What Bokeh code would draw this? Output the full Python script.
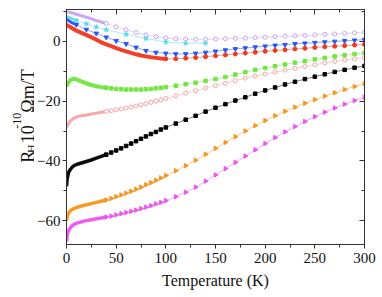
import math
from bokeh.plotting import figure
from bokeh.layouts import row
from bokeh.models import LinearAxis, Range1d, SingleIntervalTicker, CustomJSTickFormatter
from bokeh.core.properties import value
from bokeh.embed import file_html
from bokeh.resources import INLINE

# ---------------- data (temperature in K, R_H in 1e-10 Ohm m / T) ----------------
T_DENSE = [0, 0.5, 1, 2, 3, 4, 6, 8, 10, 15, 20, 25, 30, 35, 40]
T_SPARSE5 = [45, 50, 55, 60, 65, 70, 75, 80, 85, 90, 95, 100,
             110, 120, 130, 140, 150, 160, 170, 180, 190, 200,
             210, 220, 230, 240, 250, 260, 270, 280, 290, 300]

lav_T = [1, 5, 10, 15, 20, 25, 30, 35, 40,
         50, 60, 70, 80, 90, 100, 110, 120, 130, 140, 150, 160, 170, 180, 190, 200,
         210, 220, 230, 240, 250, 260, 270, 280, 290, 300]
lav_V = [10.0, 9.6, 9.1, 8.6, 8.1, 7.6, 7.0, 6.5, 6.0,
         4.9, 3.9, 3.0, 2.2, 1.6, 1.2, 0.9, 0.8, 0.7, 0.7, 0.8, 0.9, 1.0, 1.1, 1.3, 1.4,
         1.6, 1.7, 1.9, 2.0, 2.2, 2.4, 2.5, 2.7, 2.9, 3.1]

cyan_T = [0, 1, 2, 3, 4, 5, 6, 8, 10, 20, 30, 40, 60, 80, 100, 120, 140]
cyan_V = [8.3, 8.2, 8.1, 8.0, 7.9, 7.7, 7.6, 7.3, 7.0, 5.9, 4.8, 3.9, 2.4, 1.0, -0.2, -0.6, -0.6]

blue_T = [0, 1, 2, 3, 4, 5, 6, 8, 10,
          20, 30, 40, 50, 60, 70, 80, 90, 100, 110, 120, 130, 140, 150, 160, 170, 180, 190, 200,
          210, 220, 230, 240, 250, 260, 270, 280, 290, 300]
blue_V = [7.4, 7.2, 7.0, 6.8, 6.6, 6.4, 6.2, 5.9, 5.6,
          4.0, 2.7, 1.4, 0.2, -0.8, -2.0, -3.1, -3.7, -4.0, -4.2, -4.2, -4.0, -3.7, -3.3, -2.9, -2.5, -2.2, -1.9, -1.6,
          -1.3, -1.1, -0.8, -0.6, -0.4, -0.2, 0.0, 0.2, 0.4, 0.6]

red_T = [0, 2, 5, 10, 15, 20, 25, 30, 35, 40, 45, 50, 55, 60, 65, 70, 75, 80, 85, 90, 95, 100,
         110, 120, 130, 140, 150, 160, 170, 180, 190, 200,
         210, 220, 230, 240, 250, 260, 270, 280, 290, 300]
red_V = [5.6, 5.2, 4.6, 3.6, 2.9, 2.2, 1.4, 0.6, -0.3, -1.0, -1.6, -2.2, -2.8, -3.3, -3.8, -4.3, -4.7, -5.0, -5.3, -5.5, -5.7, -5.8,
         -5.8, -5.6, -5.4, -5.1, -4.8, -4.5, -4.2, -3.9, -3.6, -3.3,
         -3.0, -2.8, -2.5, -2.3, -2.0, -1.8, -1.6, -1.4, -1.2, -1.0]

green_Td = [0, 1, 2, 3, 4, 5, 6, 7, 8, 10, 12, 15, 20, 25, 30, 35, 40]
green_Vd = [-15.0, -14.4, -13.8, -13.3, -12.9, -12.7, -12.6, -12.5, -12.5, -12.7, -13.0, -13.4, -14.0, -14.6, -15.0, -15.3, -15.5]
green_Vs = [-15.7, -15.9, -16.0, -16.1, -16.1, -16.1, -16.1, -16.0, -15.9, -15.7, -15.5, -15.3,
            -14.8, -14.3, -13.8, -13.2, -12.6, -11.9, -11.1, -10.3, -9.5, -8.9,
            -8.3, -7.7, -7.1, -6.6, -6.0, -5.5, -5.0, -4.6, -4.2, -3.9]

pink_Td = [0, 1, 2, 3, 4, 6, 8, 10, 15, 20, 25, 30, 35, 40]
pink_Vd = [-28.8, -28.0, -27.5, -27.0, -26.6, -26.0, -25.6, -25.3, -24.9, -24.6, -24.3, -24.0, -23.7, -23.4]
pink_Vs = [-23.2, -22.9, -22.6, -22.3, -22.0, -21.6, -21.2, -20.8, -20.4, -20.0, -19.6, -19.1,
           -18.2, -17.3, -16.5, -15.6, -14.8, -14.0, -13.1, -12.3, -11.6, -10.9,
           -10.2, -9.6, -9.0, -8.4, -7.8, -7.2, -6.7, -6.2, -5.8, -5.4]

black_Vd = [-48.5, -46.5, -45.5, -44.0, -43.3, -42.8, -42.0, -41.5, -41.2, -40.7, -40.2, -39.7, -39.1, -38.5, -37.9]
black_Vs = [-37.2, -36.5, -35.8, -35.0, -34.2, -33.4, -32.6, -31.8, -31.0, -30.3, -29.5, -28.8,
            -27.5, -26.2, -24.9, -23.5, -22.2, -21.0, -19.8, -18.7, -17.5, -16.4,
            -15.4, -14.4, -13.5, -12.6, -11.8, -11.0, -10.2, -9.5, -8.8, -8.2]

orange_Vd = [-60.0, -59.0, -58.3, -57.6, -57.1, -56.7, -56.2, -55.9, -55.6, -55.1, -54.7, -54.3, -53.9, -53.5, -53.1]
orange_Vs = [-52.6, -52.0, -51.4, -50.8, -50.2, -49.5, -48.8, -48.0, -47.3, -46.5, -45.7, -44.9,
             -43.3, -41.6, -39.8, -37.8, -35.8, -33.8, -31.9, -30.0, -28.2, -26.5,
             -24.9, -23.4, -22.0, -20.7, -19.5, -18.3, -17.2, -16.1, -15.1, -14.1]

mag_Vd = [-67.0, -65.5, -64.5, -63.5, -62.8, -62.3, -61.6, -61.2, -60.9, -60.4, -60.0, -59.7, -59.4, -59.1, -58.8]
mag_Vs = [-58.5, -58.1, -57.7, -57.3, -56.9, -56.5, -56.0, -55.5, -55.0, -54.4, -53.9, -53.3,
          -52.0, -50.5, -48.8, -46.8, -44.7, -42.6, -40.5, -38.4, -36.3, -34.2,
          -32.2, -30.3, -28.5, -26.8, -25.2, -23.7, -22.3, -21.0, -19.8, -18.7]

X_TICKS_INTERVAL = 50
Y_TICKS_INTERVAL = 20

# y-axis title, split so that the subscript and superscript can be real text
YLABEL_MAIN = ["R", "10", "\u03a9m/T"]
YLABEL_SUB = ["H"]
YLABEL_SUP = ["-10"]

# ---------------- geometry ----------------
X0, X1 = 0, 300
Y0, Y1 = -68.0, 10.7
FW, FH = 298, 235
LAB_W = 34            # width of the strip that carries the y-axis title
TOP, BOTTOM = 9, 45
TOTAL_H = TOP + FH + BOTTOM

p = figure(frame_width=FW, frame_height=FH, x_range=Range1d(X0, X1), y_range=Range1d(Y0, Y1),
           output_backend="svg", toolbar_location=None,
           min_border_left=66 - LAB_W, min_border_right=12, min_border_top=TOP, min_border_bottom=BOTTOM,
           x_axis_location=None, y_axis_location=None)
p.xgrid.visible = False
p.ygrid.visible = False
p.outline_line_color = "#333333"
p.background_fill_color = "white"
p.border_fill_color = "white"

SERIF = "Liberation Serif"
AX = "#333333"
TXT = "#111111"


def make_axis(kind, loc):
    tk = SingleIntervalTicker(interval=X_TICKS_INTERVAL if kind == "x" else Y_TICKS_INTERVAL, num_minor_ticks=2)
    ax = LinearAxis(ticker=tk)
    ax.axis_line_color = AX
    ax.major_tick_line_color = AX
    ax.minor_tick_line_color = AX
    ax.major_label_text_font = SERIF
    ax.major_label_text_font_size = "15px"
    ax.major_label_text_color = TXT
    if loc in ("below", "left"):
        ax.major_tick_out, ax.major_tick_in = 4, 0
        ax.minor_tick_out, ax.minor_tick_in = 3, 0
        ax.major_label_standoff = 2
    else:
        ax.major_tick_out, ax.major_tick_in = 0, 5
        ax.minor_tick_out, ax.minor_tick_in = 0, 3
        ax.formatter = CustomJSTickFormatter(code="return ''")
        ax.major_label_standoff = 0
    p.add_layout(ax, loc)
    return ax


xb = make_axis("x", "below")
xb.major_label_standoff = 4
xb.axis_label = "Temperature (K)"
xb.axis_label_text_font = SERIF
xb.axis_label_text_font_style = "normal"
xb.axis_label_text_font_size = "16px"
xb.axis_label_text_color = TXT
xb.axis_label_standoff = 6
make_axis("x", "above")
make_axis("y", "left")
make_axis("y", "right")


def series(T, V, nd, color, marker, fill, size, angle=0.0, thick=3.5):
    p.line(T, V, line_color=color, line_width=1, line_alpha=0.5)
    if nd > 1:
        p.line(T[:nd], V[:nd], line_color=color, line_width=thick, line_alpha=0.95)
    p.scatter(T[nd - 1:], V[nd - 1:], marker=marker, size=size, line_color=color,
              fill_color=fill, angle=angle, line_width=1)


series(lav_T, lav_V, 9, "#C8A4F2", "circle", "white", 4, thick=3)
series(cyan_T, cyan_V, 9, "#55DDEE", "star", "#55DDEE", 5, thick=2.5)
series(blue_T, blue_V, 9, "#2A55F5", "inverted_triangle", "#2A55F5", 4.5, thick=3)
series(red_T, red_V, 22, "#F0381E", "circle", "#F0381E", 4, thick=4)
series(green_Td + T_SPARSE5, green_Vd + green_Vs, len(green_Td), "#72E640", "square", "#72E640", 3.5, thick=4)
series(pink_Td + T_SPARSE5, pink_Vd + pink_Vs, len(pink_Td), "#F4A4A4", "circle", "white", 4, thick=3)
series(T_DENSE + T_SPARSE5, black_Vd + black_Vs, len(T_DENSE), "#000000", "square", "#000000", 3.5, thick=3.5)
series(T_DENSE + T_SPARSE5, orange_Vd + orange_Vs, len(T_DENSE), "#F7961E", "triangle", "#F7961E", 4.5,
       angle=-math.pi / 2, thick=3.5)
series(T_DENSE + T_SPARSE5, mag_Vd + mag_Vs, len(T_DENSE), "#EE55EE", "triangle", "#EE55EE", 4.5,
       angle=-math.pi / 2, thick=3.5)

# ---------------- strip with the rotated y-axis title ----------------
lab = figure(width=LAB_W, height=TOTAL_H, x_range=Range1d(0, LAB_W), y_range=Range1d(0, TOTAL_H),
             output_backend="svg", toolbar_location=None, min_border=0,
             x_axis_location=None, y_axis_location=None)
lab.xgrid.visible = False
lab.ygrid.visible = False
lab.outline_line_color = None
lab.border_fill_color = "white"
lab.background_fill_color = "white"

# positions in page pixels (x from left, y from top)
MAIN_X, MAIN_Y = [27, 27, 27], [190, 166, 128]
SUB_X, SUB_Y = [31], [178]
SUP_X, SUP_Y = [16], [148]


def rot_text(texts, xs, ys, size):
    lab.text(x=xs, y=[TOTAL_H - y for y in ys], text=texts, angle=math.pi / 2,
             text_font=value(SERIF), text_font_size=value(size), text_color=TXT,
             text_align="left", text_baseline="alphabetic")


rot_text(YLABEL_MAIN, MAIN_X, MAIN_Y, "18px")
rot_text(YLABEL_SUB, SUB_X, SUB_Y, "12px")
rot_text(YLABEL_SUP, SUP_X, SUP_Y, "12px")

layout = row(lab, p)
open("out.html", "w").write(file_html(layout, INLINE))
